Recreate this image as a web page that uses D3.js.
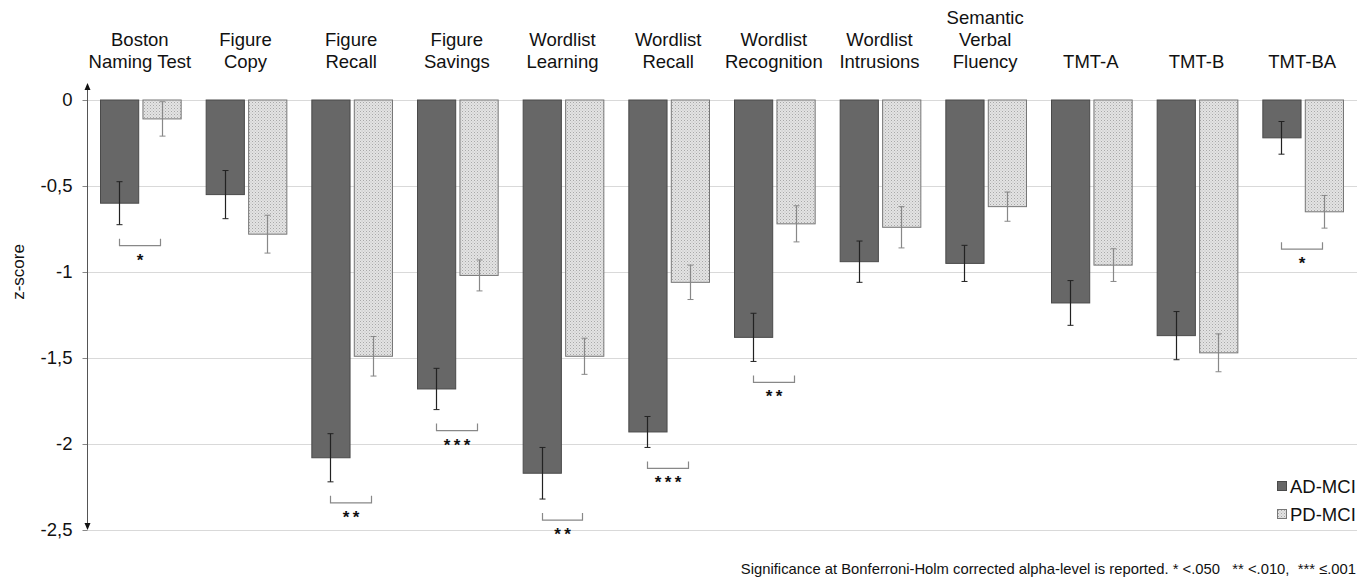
<!DOCTYPE html>
<html><head><meta charset="utf-8">
<script src="https://cdn.jsdelivr.net/npm/d3@7/dist/d3.min.js"></script>
<style>body{margin:0;background:#fff}svg{display:block;font-family:"Liberation Sans",Arial,sans-serif}</style>
</head><body><svg id="c" width="1357" height="577"></svg>
<script>
const categories = [["Boston","Naming Test"],["Figure","Copy"],["Figure","Recall"],["Figure","Savings"],["Wordlist","Learning"],["Wordlist","Recall"],["Wordlist","Recognition"],["Wordlist","Intrusions"],["Semantic","Verbal","Fluency"],["TMT-A"],["TMT-B"],["TMT-BA"]];
const adMean = [-0.60,-0.55,-2.08,-1.68,-2.17,-1.93,-1.38,-0.94,-0.95,-1.18,-1.37,-0.22];
const adErr  = [0.125,0.14,0.14,0.12,0.15,0.09,0.14,0.12,0.105,0.13,0.14,0.095];
const pdMean = [-0.11,-0.78,-1.49,-1.02,-1.49,-1.06,-0.72,-0.74,-0.62,-0.96,-1.47,-0.65];
const pdErr  = [0.10,0.11,0.115,0.09,0.105,0.10,0.105,0.12,0.085,0.095,0.11,0.095];
const sig    = ["*","","**","***","**","***","**","","","","","*"];
const yTicks = [0,-0.5,-1,-1.5,-2,-2.5];
const tickLabels = ["0","-0,5","-1","-1,5","-2","-2,5"];
const seriesNames = ["AD-MCI","PD-MCI"];

const svg = d3.select("#c");
const defs = svg.append("defs");
const pat = defs.append("pattern").attr("id","dots").attr("width",3).attr("height",3).attr("patternUnits","userSpaceOnUse");
pat.append("rect").attr("width",3).attr("height",3).attr("fill","#e3e3e3");
pat.append("rect").attr("x",0).attr("y",0).attr("width",1).attr("height",1).attr("fill","#a8a8a8");
pat.append("rect").attr("x",1.5).attr("y",1.5).attr("width",1).attr("height",1).attr("fill","#bdbdbd");

const y = d3.scaleLinear().domain([0,-2.5]).range([100,530]);
const x = d3.scaleBand().domain(d3.range(categories.length)).range([87,1355]).paddingInner(0).paddingOuter(0);
const bw = x.bandwidth();
const sub = d3.scaleBand().domain([0,1]).range([13, bw-12]).paddingInner(0.1);

// gridlines
svg.append("g").selectAll("line").data(yTicks).join("line")
  .attr("x1",87).attr("x2",1357).attr("y1",d=>y(d)+0.5).attr("y2",d=>y(d)+0.5)
  .attr("stroke","#d9d9d9").attr("stroke-width",1);

// y axis
const yAxis = d3.axisLeft(y).tickValues(yTicks).tickFormat((d,i)=>tickLabels[i]).tickSize(5).tickPadding(10);
const ga = svg.append("g").attr("transform","translate(87.5,0)").call(yAxis);
ga.select(".domain").remove();
ga.selectAll(".tick line").attr("stroke","#888");
ga.selectAll(".tick text").attr("font-size",18.5).attr("fill","#111").style("font-family","Liberation Sans, Arial, sans-serif");
svg.append("line").attr("x1",87.5).attr("x2",87.5).attr("y1",88).attr("y2",526).attr("stroke","#555").attr("stroke-width",1);
svg.append("path").attr("d","M87.5,83 L84.5,90 L90.5,90 Z").attr("fill","#111");
svg.append("path").attr("d","M87.5,530 L84.5,523 L90.5,523 Z").attr("fill","#111");

svg.append("text").attr("transform","translate(24,272) rotate(-90)").attr("text-anchor","middle")
  .attr("font-size",17).attr("fill","#111").text("z-score");

// category labels
const lab = svg.append("g");
categories.forEach((lines,i)=>{
  const cx = x(i)+bw/2;
  const n = lines.length;
  lines.forEach((t,j)=>{
    lab.append("text").attr("x",cx).attr("y",68-(n-1-j)*22).attr("text-anchor","middle")
      .attr("font-size",18.5).attr("fill","#111").text(t);
  });
});

// bars
const series = [
  {mean:adMean, err:adErr, fill:"#676767", stroke:"#4a4a4a", ecol:"#222"},
  {mean:pdMean, err:pdErr, fill:"url(#dots)", stroke:"#777", ecol:"#888"}
];
series.forEach((s,k)=>{
  const g = svg.append("g");
  g.selectAll("rect").data(s.mean).join("rect")
    .attr("x",(d,i)=>x(i)+sub(k)+0.5).attr("width",sub.bandwidth())
    .attr("y",y(0)).attr("height",d=>y(d)-y(0))
    .attr("fill",s.fill).attr("stroke",s.stroke).attr("stroke-width",1);
  const e = svg.append("g");
  s.mean.forEach((m,i)=>{
    const cx = Math.round(x(i)+sub(k)+sub.bandwidth()/2)+0.5;
    const top = y(Math.min(0,m+s.err[i])), bot = y(m-s.err[i]);
    e.append("line").attr("x1",cx).attr("x2",cx).attr("y1",top).attr("y2",bot).attr("stroke",s.ecol).attr("stroke-width",1.2);
    e.append("line").attr("x1",cx-3).attr("x2",cx+3).attr("y1",bot).attr("y2",bot).attr("stroke",s.ecol).attr("stroke-width",1);
    if (m+s.err[i] < 0) e.append("line").attr("x1",cx-3).attr("x2",cx+3).attr("y1",top).attr("y2",top).attr("stroke",s.ecol).attr("stroke-width",1);
  });
});

// significance brackets
const sg = svg.append("g");
sig.forEach((s,i)=>{
  if(!s) return;
  const low = Math.min(adMean[i]-adErr[i], pdMean[i]-pdErr[i]);
  const yb = y(low)+14;
  const x1 = Math.round(x(i)+sub(0)+sub.bandwidth()/2)+0.5;
  const x2 = Math.round(x(i)+sub(1)+sub.bandwidth()/2)-1.5;
  sg.append("path").attr("d",`M${x1},${yb} V${yb+7} H${x2} V${yb}`).attr("fill","none").attr("stroke","#888").attr("stroke-width",1.2);
  sg.append("text").attr("x",(x1+x2)/2).attr("y",yb+27).attr("text-anchor","middle")
    .attr("font-size",17).attr("font-weight","bold").attr("fill","#111").text(s.split("").join("\u2009"));
});

// legend
const lg = svg.append("g");
seriesNames.forEach((n,k)=>{
  const yy = 481+k*28;
  lg.append("rect").attr("x",1277.5).attr("y",yy+0.5).attr("width",9).attr("height",9)
    .attr("fill",series[k].fill).attr("stroke",series[k].stroke);
  lg.append("text").attr("x",1290).attr("y",yy+12).attr("font-size",18.5).attr("fill","#111").text(n);
});

svg.append("text").attr("x",1356).attr("y",574).attr("text-anchor","end").attr("font-size",14.8).attr("fill","#111")
  .attr("xml:space","preserve").style("white-space","pre")
  .text("Significance at Bonferroni-Holm corrected alpha-level is reported. * <.050   ** <.010,  *** \u2264.001");
</script></body></html>
